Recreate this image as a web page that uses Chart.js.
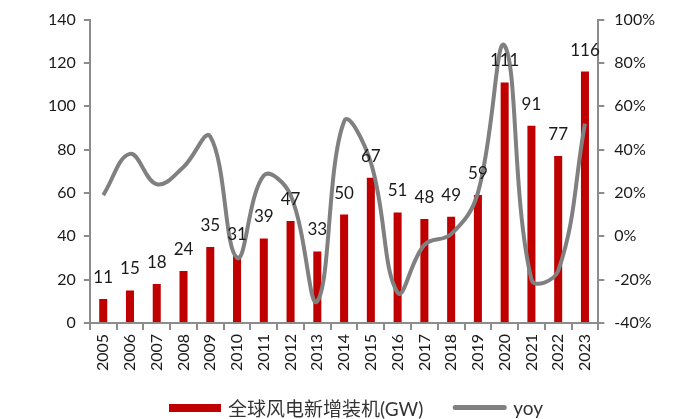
<!DOCTYPE html>
<html>
<head>
<meta charset="utf-8">
<script src="https://cdn.jsdelivr.net/npm/chart.js@4/dist/chart.umd.min.js"></script>
<style>
  html, body { margin: 0; padding: 0; background: #fff; }
  #wrap { width: 691px; height: 419px; position: relative; }
</style>
</head>
<body>
<div id="wrap"><canvas id="c" width="691" height="419"></canvas></div>
<script>
// Global newly installed wind capacity (GW) and year-on-year growth
const years = ['2005','2006','2007','2008','2009','2010','2011','2012','2013','2014',
               '2015','2016','2017','2018','2019','2020','2021','2022','2023'];
const capacityGW = [11, 15, 18, 24, 35, 31, 39, 47, 33, 50, 67, 51, 48, 49, 59, 111, 91, 77, 116];
const yoyPct = [19, 38, 24, 32, 46, -10, 28, 19, -30, 53, 34, -26, -4, 1, 20, 88, -20, -16, 52];
const leftTicks = [0, 20, 40, 60, 80, 100, 120, 140];
const rightTicks = [-40, -20, 0, 20, 40, 60, 80, 100];

const FONT = "Lato, 'Noto Sans CJK SC', sans-serif";
const AXIS_GREY = '#8c8c8c';
const BAR_RED = '#c00000';
const LINE_GREY = '#808080';

// Value labels above each bar
const barLabels = {
  id: 'barLabels',
  afterDatasetsDraw(chart) {
    const meta = chart.getDatasetMeta(1);
    const ctx = chart.ctx;
    ctx.save();
    ctx.font = '17px ' + FONT;
    ctx.fillStyle = '#1a1a1a';
    ctx.textAlign = 'center';
    ctx.textBaseline = 'bottom';
    meta.data.forEach((bar, i) => {
      ctx.fillText(String(capacityGW[i]), bar.x, bar.y - 13);
    });
    ctx.restore();
  }
};

// Bottom legend: red swatch for the bars, grey stroke for the growth line
const bottomLegend = {
  id: 'bottomLegend',
  afterDraw(chart) {
    const ctx = chart.ctx;
    const ds = chart.data.datasets;
    const y = 409;
    let x = 169;
    ctx.save();
    ctx.font = '19px ' + FONT;
    ctx.textBaseline = 'middle';
    // bar item
    ctx.fillStyle = BAR_RED;
    ctx.fillRect(x, y - 5, 52, 8);
    x += 59;
    ctx.fillStyle = '#333';
    ctx.fillText(ds[1].label, x, y + 1);
    x += ctx.measureText(ds[1].label).width + 30;
    // line item
    ctx.strokeStyle = LINE_GREY;
    ctx.lineWidth = 5;
    ctx.lineCap = 'round';
    ctx.beginPath();
    ctx.moveTo(x + 2, y - 1.5);
    ctx.lineTo(x + 51, y - 1.5);
    ctx.stroke();
    x += 60;
    ctx.fillText(ds[0].label, x, y);
    ctx.restore();
  }
};

new Chart(document.getElementById('c'), {
  data: {
    labels: years,
    datasets: [
      {
        type: 'line',
        label: 'yoy',
        data: yoyPct,
        yAxisID: 'y2',
        borderColor: LINE_GREY,
        backgroundColor: LINE_GREY,
        borderWidth: 4,
        pointRadius: 0,
        tension: 0.4,
        order: 0
      },
      {
        type: 'bar',
        label: '全球风电新增装机(GW)',
        data: capacityGW,
        yAxisID: 'y',
        backgroundColor: BAR_RED,
        barPercentage: 0.6,
        categoryPercentage: 0.5,
        order: 1
      }
    ]
  },
  plugins: [barLabels, bottomLegend],
  options: {
    responsive: false,
    animation: false,
    layout: { padding: { left: 40, right: 26, top: 12, bottom: 44 } },
    plugins: {
      tooltip: { enabled: false },
      legend: { display: false }
    },
    scales: {
      x: {
        grid: { offset: true, drawOnChartArea: false, drawTicks: true, tickLength: 7, color: AXIS_GREY, lineWidth: 2 },
        border: { color: AXIS_GREY, width: 2 },
        ticks: { font: { size: 16, family: FONT }, color: '#1a1a1a', minRotation: 90, maxRotation: 90, padding: 4 }
      },
      y: {
        position: 'left',
        min: 0, max: 140,
        afterBuildTicks(axis) { axis.ticks = leftTicks.map(v => ({ value: v })); },
        grid: { drawOnChartArea: false, drawTicks: true, tickLength: 6, color: AXIS_GREY, lineWidth: 2 },
        border: { color: AXIS_GREY, width: 2 },
        ticks: { font: { size: 16, family: FONT }, color: '#1a1a1a', padding: 8 }
      },
      y2: {
        position: 'right',
        min: -40, max: 100,
        afterBuildTicks(axis) { axis.ticks = rightTicks.map(v => ({ value: v })); },
        grid: { drawOnChartArea: false, drawTicks: true, tickLength: 6, color: AXIS_GREY, lineWidth: 2 },
        border: { color: AXIS_GREY, width: 2 },
        ticks: { font: { size: 16, family: FONT }, color: '#1a1a1a', padding: 10, callback: v => v + '%' }
      }
    }
  }
});
</script>
</body>
</html>
